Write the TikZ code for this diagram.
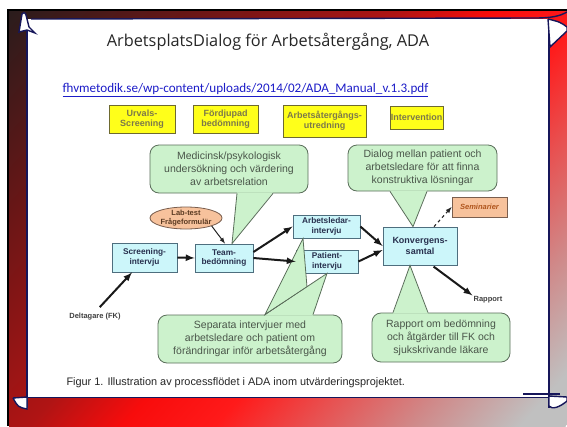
\documentclass[tikz,border=0pt]{standalone}
\usepackage{fontspec}
\setmainfont{Liberation Sans}
\newfontfamily\titlefont{Open Sans}
\newfontfamily\urlfont{Carlito}
\usepackage{tikz}
\usetikzlibrary{positioning}
\usetikzlibrary{calc}
\usetikzlibrary{shapes}
\usepackage{xcolor}
\definecolor{bgdark}{HTML}{2A1C1C}
\definecolor{bgwine}{HTML}{6A1616}
\definecolor{bgdeep}{HTML}{B01414}
\definecolor{bgred}{HTML}{F80C0C}
\definecolor{bgredlight}{HTML}{FF1A1A}
\definecolor{bgsalmon}{HTML}{E85050}
\definecolor{bgrose}{HTML}{D08888}
\definecolor{bggrey}{HTML}{C0C0C0}
\definecolor{navy}{HTML}{16165A}
\definecolor{yelfill}{HTML}{FFFF1A}
\definecolor{yeldraw}{HTML}{6E6A30}
\definecolor{yeltext}{HTML}{7C784A}
\definecolor{cyanfill}{HTML}{CCF6FA}
\definecolor{cyandraw}{HTML}{4E6E7E}
\definecolor{cyantext}{HTML}{28304E}
\definecolor{notefill}{HTML}{CCF2CC}
\definecolor{notedraw}{HTML}{5A6E5A}
\definecolor{notetext}{HTML}{4A564A}
\definecolor{orfill}{HTML}{F7C29C}
\definecolor{ordraw}{HTML}{7A5E4E}
\definecolor{ortext}{HTML}{5A3A22}
\definecolor{semtext}{HTML}{B0561E}
\definecolor{urlblue}{HTML}{1C1CC8}
\pgfdeclarehorizontalshading{slideshade}{100bp}{color(0bp)=(bgdark); color(25bp)=(bgdark); color(35bp)=(bgwine); color(46bp)=(bgdeep); color(51bp)=(bgred); color(56bp)=(bgredlight); color(61bp)=(bgsalmon); color(66.5bp)=(bgrose); color(72.5bp)=(bggrey); color(100bp)=(bggrey)}
\tikzset{myboxYel/.style={draw=yeldraw, line width=0.8pt, fill=yelfill, text=yeltext, font=\fontsize{9}{10}\selectfont\bfseries, align=center, inner sep=0pt}}
\tikzset{myboxCyan/.style={draw=cyandraw, line width=0.8pt, fill=cyanfill, text=cyantext, font=\fontsize{8.3}{9.8}\selectfont\bfseries, align=center, inner sep=0pt}}
\tikzset{myboxNote/.style={draw=notedraw, line width=0.8pt, fill=notefill, text=notetext, rounded corners=9pt, font=\fontsize{10.5}{13}\selectfont, align=center, inner sep=0pt}}
\tikzset{myboxOr/.style={draw=ordraw, line width=0.8pt, fill=orfill, align=center, inner sep=0pt}}
\tikzset{notePin/.style={fill=notefill}}
\tikzset{notePinEdge/.style={draw=notedraw, line width=0.8pt}}
\tikzset{myarrow/.style={->, >=latex, line width=2pt, black!90}}
\tikzset{myLabel/.style={inner sep=1pt, text=black!75, font=\fontsize{7.5}{9}\selectfont\bfseries}}
\tikzset{paperEdge/.style={draw=navy, line width=1.4pt}}

\begin{document}
\begin{tikzpicture}[x=1pt, y=-1pt]
\useasboundingbox (0,0) rectangle (567,426);

\fill[white] (0,0) rectangle (567,426);
\fill[black] (7,9) rectangle (567,11);
\fill[black] (7,9) rectangle (9,426);
\begin{scope}
\clip (9,11) rectangle (567,426);
\shade[shading=slideshade, transform canvas={rotate around={-41.6:(288,218)}}] (-58,-132) rectangle (634,568);
\end{scope}

% paper
\fill[white] (27,19) rectangle (549,397);
\draw[paperEdge] (27,22) -- (27,408);
\draw[paperEdge] (31,19) -- (535,18) .. controls (552,18) and (560,16) .. (567,12);
\draw[paperEdge] (549,20) -- (549,408);
\draw[draw=navy, line width=1pt] (13,397) -- (549,397);
\draw[draw=navy, line width=2pt] (523,394) -- (560,394);
\filldraw[paperEdge, fill=white] (548,19) -- (550,47) -- (567,31) -- (567,27) .. controls (560,22) .. (548,19);
\filldraw[paperEdge, fill=white] (13,398) -- (27,397) -- (27,409) .. controls (18,407) .. (13,398);
\filldraw[paperEdge, fill=white] (549,396) -- (567,397) -- (567,401) .. controls (560,407) and (552,410) .. (549,406) -- cycle;
\filldraw[paperEdge, fill=white] (19,32) -- (22,14) .. controls (23,12) and (25,12) .. (26,15) -- (29,27) -- (35,33) -- (27,30) -- cycle;

\node[font=\titlefont\fontsize{16.3}{19}\selectfont, text=black!85] (title) at (268,42) {ArbetsplatsDialog för Arbetsåtergång, ADA};
\node[font=\urlfont\fontsize{13.1}{15}\selectfont, text=urlblue] (url) at (245.5,90) {\underline{fhvmetodik.se/wp-content/uploads/2014/02/ADA\_Manual\_v.1.3.pdf}};

\node[myboxYel, minimum width=66pt, minimum height=28pt] (urval) at (142,119) {Urvals-\\Screening};
\node[myboxYel, minimum width=65pt, minimum height=28pt] (fordjup) at (225.5,119) {Fördjupad\\bedömning};
\node[myboxYel, minimum width=83pt, minimum height=32pt] (utred) at (324.5,121) {Arbetsåtergångs-\\utredning};
\node[myboxYel, minimum width=53pt, minimum height=23pt] (interv) at (416.5,117.5) {Intervention};

\node[myboxNote, minimum width=158pt, minimum height=48pt] (noteMed) at (229,169) {Medicinsk/psykologisk\\undersökning och värdering\\av arbetsrelation};
\node[myboxNote, minimum width=149pt, minimum height=46pt] (noteDialog) at (422.5,168) {Dialog mellan patient och\\arbetsledare för att finna\\konstruktiva lösningar};
\node[myboxNote, minimum width=184pt, minimum height=48pt] (noteSep) at (250,339) {Separata intervjuer med\\arbetsledare och patient om\\förändringar inför arbetsåtergång};
\node[myboxNote, minimum width=138pt, minimum height=49pt] (noteRapp) at (441,337.5) {Rapport om bedömning\\och åtgärder till FK och\\sjukskrivande läkare};

\node[myboxCyan, minimum width=65pt, minimum height=29pt] (screen) at (144.5,257.5) {Screening-\\intervju};
\node[myboxCyan, minimum width=58pt, minimum height=28pt] (team) at (224,258) {Team-\\bedömning};
\node[myboxCyan, minimum width=67pt, minimum height=23pt] (arbled) at (326.5,226.5) {Arbetsledar-\\intervju};
\node[myboxCyan, minimum width=62pt, minimum height=23pt] (patient) at (327,261.5) {Patient-\\intervju};
\node[myboxCyan, minimum width=74pt, minimum height=38pt, font=\fontsize{9}{10.5}\selectfont\bfseries] (konv) at (420,246) {Konvergens-\\samtal};

\node[myboxOr, ellipse, minimum width=72pt, minimum height=22pt, text=ortext, font=\fontsize{7.5}{8.5}\selectfont\bfseries] (lab) at (186,218) {Lab-test\\Frågeformulär};
\node[myboxOr, minimum width=55pt, minimum height=20pt, text=semtext, font=\fontsize{7.5}{9}\selectfont\bfseries\itshape] (semin) at (479.5,207) {Seminarier};

\node[myLabel] (delt) at (95,317) {Deltagare (FK)};
\node[myLabel] (rapport) at (488,300) {Rapport};
\node[anchor=west, text=black!85, font=\fontsize{10.9}{12}\selectfont] (caption) at (63,383) {Figur 1. Illustration av processflödet i ADA inom utvärderingsprojektet.};

\fill[notePin] ($(noteMed.south)+(8,-1)$) -- ($(team.north)+(8,0)$) -- ($(noteMed.south)+(44,-1)$) -- cycle;
\draw[notePinEdge] ($(noteMed.south)+(8,0)$) -- ($(team.north)+(8,0)$) -- ($(noteMed.south)+(44,0)$);

\fill[notePin] ($(noteDialog.south)+(-32.5,-1)$) -- ($(konv.north)+(-7,0)$) -- ($(noteDialog.south)+(4.5,-1)$) -- cycle;
\draw[notePinEdge] ($(noteDialog.south)+(-32.5,0)$) -- ($(konv.north)+(-7,0)$) -- ($(noteDialog.south)+(4.5,0)$);

\fill[notePin] ($(noteRapp.north)+(-48,1)$) -- ($(konv.south)+(-10,0)$) -- ($(noteRapp.north)+(-13,1)$) -- cycle;
\draw[notePinEdge] ($(noteRapp.north)+(-48,0)$) -- ($(konv.south)+(-10,0)$) -- ($(noteRapp.north)+(-13,0)$);

\coordinate (sepNotch) at (307,287);
\filldraw[notePin, notePinEdge] ($(noteSep.north)+(15,0)$) -- ($(arbled.south)+(-23.5,0)$) -- (sepNotch) -- cycle;
\fill[notePin] ($(noteSep.north)+(15,1)$) -- (patient.south) -- ($(noteSep.north)+(63,1)$) -- cycle;
\draw[notePinEdge] ($(noteSep.north)+(15,0)$) -- (patient.south) -- ($(noteSep.north)+(63,0)$);

\draw[myarrow, shorten <=7pt] (delt.north) -- ($(screen.south)+(-12.5,0)$);
\draw[myarrow] (screen.east) -- (team.west);
\draw[myarrow] ([yshift=6pt]team.east) -- (arbled.west);
\draw[myarrow] (team.east) -- (patient.west);
\draw[->, >=latex, line width=1pt, black!85] (lab.south east) -- ($(team.north)+(1,0)$);
\draw[myarrow] (arbled.east) -- (konv.west);
\draw[myarrow] (patient.east) -- ([yshift=-4pt]konv.west);
\draw[myarrow, shorten <=2pt] ($(konv.south)+(12,0)$) -- (rapport.north west);
\draw[->, >=latex, dashed, line width=1.1pt, black!85] ($(konv.north)+(14,0)$) -- (semin.west);

\end{tikzpicture}
\end{document}
